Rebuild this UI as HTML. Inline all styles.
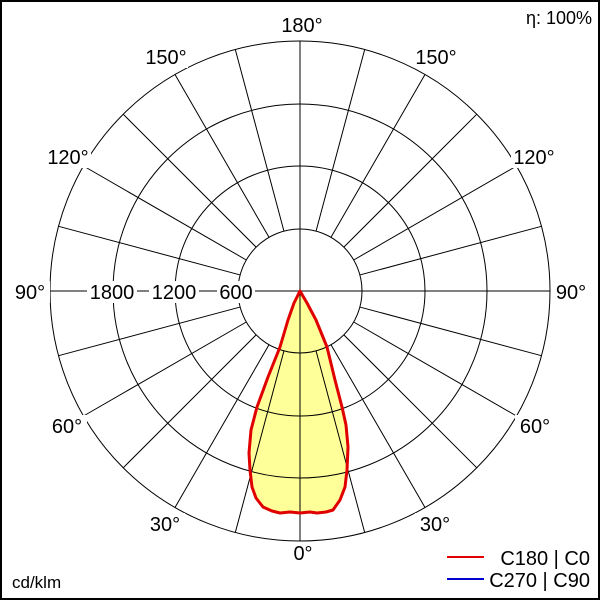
<!DOCTYPE html>
<html><head><style>body{margin:0;background:#fff}svg{display:block}</style></head><body>
<svg width="600" height="600" viewBox="0 0 600 600" xmlns="http://www.w3.org/2000/svg" font-family="Liberation Sans, Arial, sans-serif" font-size="20">
<rect x="0" y="0" width="600" height="600" fill="#fff"/>
<path id="c" d="M300,291 L294,303 L288,320 L280,347 L268,377 L257,407 L251,430 L249,453 L250,470 L252,487 L256,498 L263,507 L272,511 L280,513 L290,512 L300,513 L310,512 L317,513 L326,512 L333,510 L340,500 L345,487 L347,470 L348,447 L346,425 L342,407 L335,380 L327,347 L316,320 L307,303 Z" fill="#ffff99"/>
<g stroke="#000" stroke-width="1" fill="none">
<circle cx="300" cy="291" r="62"/>
<circle cx="300" cy="291" r="125"/>
<circle cx="300" cy="291" r="187"/>
<circle cx="300" cy="291" r="250"/>
<line x1="300" y1="41" x2="300" y2="541"/>
<line x1="50" y1="291" x2="550" y2="291"/>
<path d="M316.05,350.89L364.7,532.5 M283.95,350.89L235.3,532.5 M316.05,231.11L364.7,49.5 M283.95,231.11L235.3,49.5
M331,344.69L425,507.5 M269,344.69L175,507.5 M331,237.31L425,74.5 M269,237.31L175,74.5
M343.84,334.84L476.8,467.8 M256.16,334.84L123.2,467.8 M343.84,247.16L476.8,114.2 M256.16,247.16L123.2,114.2
M353.69,322L516.5,416 M246.31,322L83.5,416 M353.69,260L516.5,166 M246.31,260L83.5,166
M359.89,307.05L541.5,355.7 M240.11,307.05L58.5,355.7 M359.89,274.95L541.5,226.3 M240.11,274.95L58.5,226.3"/>
</g>
<path d="M300,291 L294,303 L288,320 L280,347 L268,377 L257,407 L251,430 L249,453 L250,470 L252,487 L256,498 L263,507 L272,511 L280,513 L290,512 L300,513 L310,512 L317,513 L326,512 L333,510 L340,500 L345,487 L347,470 L348,447 L346,425 L342,407 L335,380 L327,347 L316,320 L307,303 Z" fill="none" stroke="#e00000" stroke-width="3" stroke-linejoin="round"/>
<g text-anchor="middle" fill="#000">
<rect x="280" y="14" width="42" height="22" fill="#fff"/>
<text x="302" y="32">180°</text>
<rect x="144" y="46" width="44" height="22" fill="#fff"/>
<text x="166" y="64">150°</text>
<rect x="414" y="46" width="44" height="22" fill="#fff"/>
<text x="436" y="64">150°</text>
<rect x="45" y="146" width="46" height="22" fill="#fff"/>
<text x="68" y="164">120°</text>
<rect x="511" y="146" width="46" height="22" fill="#fff"/>
<text x="534" y="164">120°</text>
<rect x="10" y="281" width="40" height="22" fill="#fff"/>
<text x="30" y="299">90°</text>
<rect x="551" y="281" width="40" height="22" fill="#fff"/>
<text x="571" y="299">90°</text>
<rect x="87" y="281" width="50" height="22" fill="#fff"/>
<text x="112" y="299">1800</text>
<rect x="149" y="281" width="50" height="22" fill="#fff"/>
<text x="174" y="299">1200</text>
<rect x="217" y="281" width="38" height="22" fill="#fff"/>
<text x="236" y="299">600</text>
<rect x="47" y="415" width="40" height="22" fill="#fff"/>
<text x="67" y="433">60°</text>
<rect x="515" y="415" width="40" height="22" fill="#fff"/>
<text x="535" y="433">60°</text>
<rect x="145" y="513" width="40" height="22" fill="#fff"/>
<text x="165" y="531">30°</text>
<rect x="415" y="513" width="40" height="22" fill="#fff"/>
<text x="435" y="531">30°</text>
<text x="303" y="560">0°</text>
</g>
<text x="592" y="24" text-anchor="end" font-size="18">η: 100%</text>
<text x="12" y="588" font-size="17">cd/klm</text>
<line x1="447" y1="557" x2="484" y2="557" stroke="#e00000" stroke-width="2"/>
<text x="590" y="565" text-anchor="end">C180 | C0</text>
<line x1="447" y1="579" x2="484" y2="579" stroke="#0000cc" stroke-width="2"/>
<text x="590" y="587" text-anchor="end">C270 | C90</text>
<rect x="1" y="1" width="598" height="598" fill="none" stroke="#000" stroke-width="2"/>
</svg>
</body></html>
